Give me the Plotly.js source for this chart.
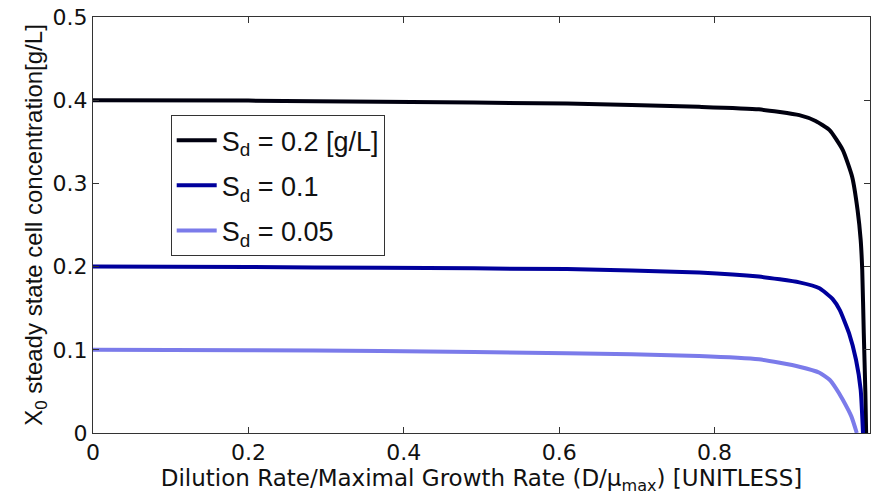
<!DOCTYPE html>
<html>
<head>
<meta charset="utf-8">
<script src="https://cdn.plot.ly/plotly-3.0.1.min.js"></script>
<style>html,body{margin:0;padding:0;background:#fff;}#chart{width:874px;height:504px;}</style>
</head>
<body>
<div id="chart"></div>
<script>
// Data
const dBlack = [0, 0.2, 0.37, 0.61, 0.78, 0.857, 0.909, 0.93, 0.948, 0.965, 0.977, 0.984, 0.988, 0.99, 0.992, 0.994, 0.995];
const xBlack = [0.400, 0.3995, 0.398, 0.396, 0.392, 0.389, 0.382, 0.375, 0.364, 0.34, 0.308, 0.268, 0.232, 0.196, 0.12, 0.05, 0];
const dBlue = [0, 0.2, 0.37, 0.61, 0.78, 0.857, 0.909, 0.935, 0.952, 0.961, 0.973, 0.982, 0.988, 0.991];
const xBlue = [0.2, 0.1995, 0.1985, 0.197, 0.193, 0.188, 0.181, 0.174, 0.161, 0.148, 0.12, 0.088, 0.052, 0];
const dLight = [0, 0.2, 0.37, 0.61, 0.78, 0.857, 0.909, 0.935, 0.948, 0.956, 0.965, 0.976, 0.983];
const xLight = [0.1, 0.0995, 0.0986, 0.096, 0.0926, 0.0886, 0.0797, 0.0725, 0.064, 0.054, 0.04, 0.02, 0];
const seriesNames = ['S<sub>d</sub> = 0.2 [g/L]', 'S<sub>d</sub> = 0.1', 'S<sub>d</sub> = 0.05'];
const xTickVals = [0, 0.2, 0.4, 0.6, 0.8, 1];
const xTickText = ['0', '0.2', '0.4', '0.6', '0.8', '1'];
const yTickVals = [0, 0.1, 0.2, 0.3, 0.4, 0.5];
const yTickText = ['0', '0.1', '0.2', '0.3', '0.4', '0.5'];

const wide = 'DejaVu Sans, Verdana, sans-serif';
const narrow = 'Liberation Sans, Arial, Helvetica, sans-serif';
const lineStyle = (c) => ({color: c, width: 4, shape: 'spline', smoothing: 0.5});
const traces = [
  {x: dBlack, y: xBlack, name: seriesNames[0], legendgroup: 'a', mode: 'lines', line: lineStyle('#00000f')},
  {x: dBlue, y: xBlue, name: seriesNames[1], legendgroup: 'b', mode: 'lines', line: lineStyle('#00009c')},
  {x: dLight, y: xLight, name: seriesNames[2], legendgroup: 'c', mode: 'lines', line: lineStyle('#7b7bea')}
];
const layout = {
  width: 874, height: 504,
  margin: {l: 93, r: 4, t: 17, b: 71},
  paper_bgcolor: '#fff', plot_bgcolor: '#fff',
  font: {family: wide, size: 22, color: '#111'},
  showlegend: true,
  legend: {x: 0.1, y: 0.764, xanchor: 'left', yanchor: 'top', bgcolor: '#fff', bordercolor: '#333', borderwidth: 1,
           font: {family: narrow, size: 27, color: '#111'}, tracegroupgap: 7, itemwidth: 40},
  xaxis: {range: [0, 1], tickvals: xTickVals, ticktext: xTickText, ticks: 'inside', ticklen: 6, tickcolor: '#333',
          showline: true, linecolor: '#333', linewidth: 1, mirror: 'ticks', showgrid: false, zeroline: false,
          tickfont: {family: wide, size: 22, color: '#111'},
          title: {text: 'Dilution Rate/Maximal Growth Rate (D/μ<sub>max</sub>) [UNITLESS]', font: {family: wide, size: 23, color: '#111'}, standoff: 1}},
  yaxis: {range: [0, 0.5], tickvals: yTickVals, ticktext: yTickText, ticks: 'inside', ticklen: 6, tickcolor: '#333',
          showline: true, linecolor: '#333', linewidth: 1, mirror: 'ticks', showgrid: false, zeroline: false,
          tickfont: {family: wide, size: 22, color: '#111'},
          title: {text: 'X<sub>0</sub> steady state cell concentration[g/L]', font: {family: narrow, size: 24, color: '#111'}, standoff: 3}}
};
Plotly.newPlot('chart', traces, layout, {displayModeBar: false, staticPlot: true});
</script>
</body>
</html>
